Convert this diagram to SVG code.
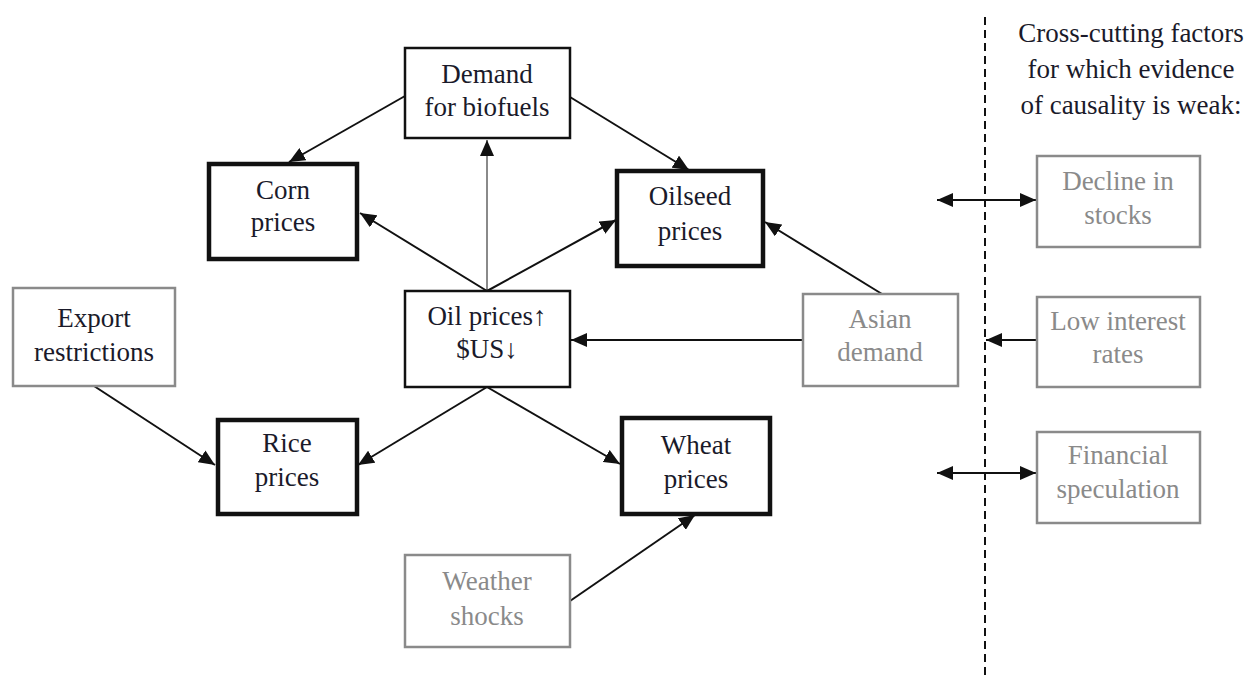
<svg xmlns="http://www.w3.org/2000/svg" width="1251" height="677" viewBox="0 0 1251 677">
<style>
  text { font-family: "Liberation Serif", "Times New Roman", serif; font-size: 27px; text-anchor: middle; fill: #1a1a2a; }
  text.g { fill: #8a8a8a; }
  .thin { fill: #fff; stroke: #111; stroke-width: 2.5; }
  .thick { fill: #fff; stroke: #111; stroke-width: 4.5; }
  .grey { fill: #fff; stroke: #8a8a8a; stroke-width: 2.5; }
  .conn { stroke: #111; stroke-width: 2; fill: none; }
  .conng { stroke: #8a8a8a; stroke-width: 2; fill: none; }
</style>
<defs>
  <marker id="ahb" viewBox="0 0 16 14" refX="16" refY="7" markerWidth="16" markerHeight="14" markerUnits="userSpaceOnUse" orient="auto-start-reverse">
    <path d="M0,0 L16,7 L0,14 z" fill="#111"/>
  </marker>
</defs>

<g id="connectors">
  <line class="conng" x1="487" y1="291" x2="487" y2="140" marker-end="url(#ahb)"/>
  <line class="conn" x1="405" y1="96" x2="289" y2="162" marker-end="url(#ahb)"/>
  <line class="conn" x1="570" y1="97" x2="689" y2="170" marker-end="url(#ahb)"/>
  <line class="conn" x1="487" y1="291" x2="360" y2="213" marker-end="url(#ahb)"/>
  <line class="conn" x1="487" y1="291" x2="616" y2="220" marker-end="url(#ahb)"/>
  <line class="conn" x1="882" y1="294" x2="765" y2="222" marker-end="url(#ahb)"/>
  <line class="conn" x1="803" y1="340" x2="571" y2="340" marker-end="url(#ahb)"/>
  <line class="conn" x1="487" y1="387" x2="358" y2="465" marker-end="url(#ahb)"/>
  <line class="conn" x1="487" y1="387" x2="620" y2="464" marker-end="url(#ahb)"/>
  <line class="conn" x1="94" y1="386" x2="215" y2="465" marker-end="url(#ahb)"/>
  <line class="conn" x1="570" y1="601" x2="695" y2="515" marker-end="url(#ahb)"/>
  <line class="conn" x1="937" y1="200" x2="1036" y2="200" marker-start="url(#ahb)" marker-end="url(#ahb)"/>
  <line class="conn" x1="1037" y1="340" x2="986" y2="340" marker-end="url(#ahb)"/>
  <line class="conn" x1="937" y1="473" x2="1036" y2="473" marker-start="url(#ahb)" marker-end="url(#ahb)"/>
  <line x1="985" y1="17" x2="985" y2="677" stroke="#111" stroke-width="2" stroke-dasharray="8,5"/>
</g>

<g id="demand-biofuels">
  <rect class="thin" x="405" y="48" width="165" height="90"/>
  <text x="487" y="83">Demand</text>
  <text x="487" y="116">for biofuels</text>
</g>
<g id="corn-prices">
  <rect class="thick" x="209" y="164" width="148" height="95"/>
  <text x="283" y="199">Corn</text>
  <text x="283" y="231">prices</text>
</g>
<g id="oilseed-prices">
  <rect class="thick" x="617" y="171" width="146" height="95"/>
  <text x="690" y="205">Oilseed</text>
  <text x="690" y="240">prices</text>
</g>
<g id="oil-prices">
  <rect class="thin" x="405" y="291" width="165" height="96"/>
  <text x="487" y="325">Oil prices↑</text>
  <text x="487" y="358">$US↓</text>
</g>
<g id="asian-demand">
  <rect class="grey" x="803" y="294" width="155" height="92"/>
  <text class="g" x="880" y="328">Asian</text>
  <text class="g" x="880" y="361">demand</text>
</g>
<g id="export-restrictions">
  <rect class="grey" x="13" y="288" width="162" height="98"/>
  <text x="94" y="327">Export</text>
  <text x="94" y="361">restrictions</text>
</g>
<g id="rice-prices">
  <rect class="thick" x="218" y="420" width="139" height="94"/>
  <text x="287" y="452">Rice</text>
  <text x="287" y="486">prices</text>
</g>
<g id="wheat-prices">
  <rect class="thick" x="622" y="418" width="148" height="96"/>
  <text x="696" y="454">Wheat</text>
  <text x="696" y="488">prices</text>
</g>
<g id="weather-shocks">
  <rect class="grey" x="405" y="555" width="165" height="92"/>
  <text class="g" x="487" y="590">Weather</text>
  <text class="g" x="487" y="625">shocks</text>
</g>
<g id="cross-cutting-title">
  <text x="1131" y="42">Cross-cutting factors</text>
  <text x="1131" y="78">for which evidence</text>
  <text x="1131" y="114">of causality is weak:</text>
</g>
<g id="decline-stocks">
  <rect class="grey" x="1037" y="156" width="163" height="91"/>
  <text class="g" x="1118" y="190">Decline in</text>
  <text class="g" x="1118" y="224">stocks</text>
</g>
<g id="low-interest">
  <rect class="grey" x="1037" y="297" width="163" height="90"/>
  <text class="g" x="1118" y="330">Low interest</text>
  <text class="g" x="1118" y="363">rates</text>
</g>
<g id="financial-speculation">
  <rect class="grey" x="1037" y="432" width="163" height="91"/>
  <text class="g" x="1118" y="464">Financial</text>
  <text class="g" x="1118" y="498">speculation</text>
</g>
</svg>
